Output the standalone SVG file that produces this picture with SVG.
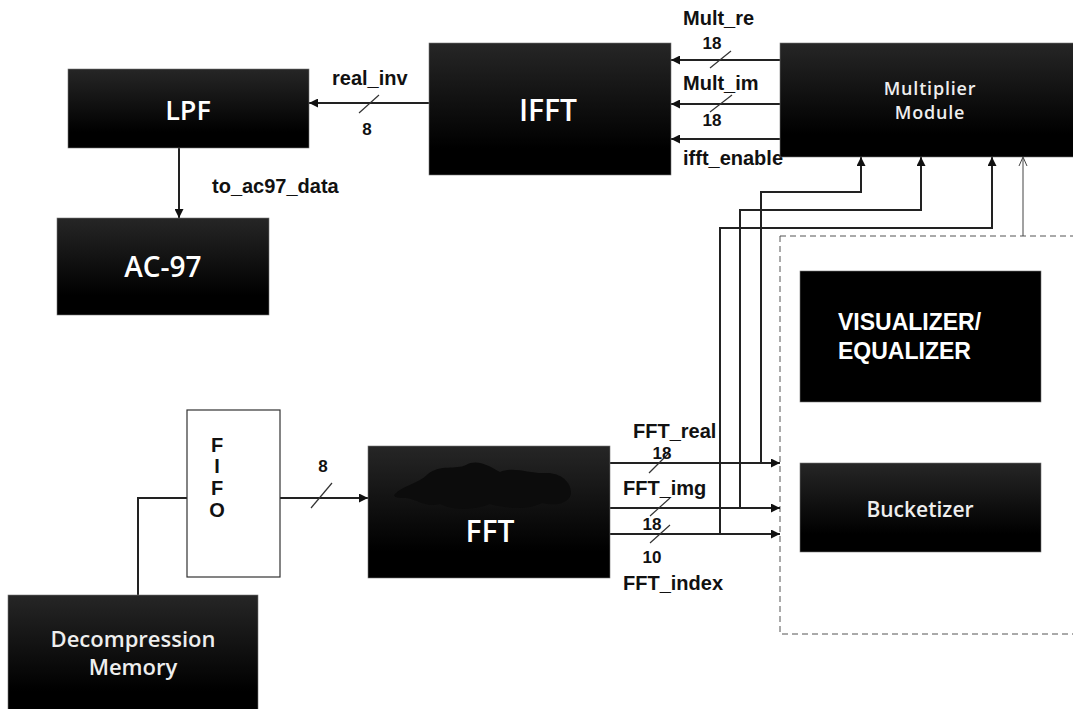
<svg xmlns="http://www.w3.org/2000/svg" width="1073" height="709" viewBox="0 0 1073 709">
<defs>
<linearGradient id="g" x1="0" y1="0" x2="0" y2="1">
<stop offset="0" stop-color="#262626"/>
<stop offset="0.8" stop-color="#000"/>
</linearGradient>
<marker id="ah" viewBox="0 0 10 10" refX="10" refY="5" markerWidth="9" markerHeight="9" markerUnits="userSpaceOnUse" orient="auto">
<path d="M0,0 L10,5 L0,10 Z" fill="#111"/>
</marker>
<marker id="oh" viewBox="0 0 10 10" refX="10" refY="5" markerWidth="10" markerHeight="10" markerUnits="userSpaceOnUse" orient="auto">
<path d="M1,1 L10,5 L1,9" fill="none" stroke="#444" stroke-width="1"/>
</marker>
<style>
.box{fill:url(#g);stroke:#777;stroke-width:0.6}
.blk{fill:#000;stroke:#777;stroke-width:0.6}
.bt{font-family:"Open Sans","DejaVu Sans",sans-serif;font-weight:600;fill:#fff;text-anchor:middle}
.st{font-family:"Open Sans","DejaVu Sans",sans-serif;font-weight:600;fill:#eee;text-anchor:middle}
.lb{font-family:"Liberation Sans",Arial,sans-serif;font-weight:700;fill:#111;font-size:20px}
.nm{font-family:"Liberation Sans",Arial,sans-serif;font-weight:700;fill:#111;font-size:17px;text-anchor:middle}
.w{fill:none;stroke:#222;stroke-width:2}
.wa{fill:none;stroke:#222;stroke-width:2;marker-end:url(#ah)}
.sl{stroke:#333;stroke-width:1.2}
</style>
</defs>
<rect width="1073" height="709" fill="#fff"/>

<g id="connectors">
<rect x="780" y="236" width="310" height="398" fill="none" stroke="#555" stroke-width="1" stroke-dasharray="6,4"/>
<line class="wa" x1="429" y1="103" x2="309" y2="103"/>
<line class="sl" x1="359" y1="113" x2="379" y2="95"/>
<line class="wa" x1="179" y1="148" x2="179" y2="218" stroke-width="1.5"/>
<line class="wa" x1="780" y1="60" x2="671" y2="60"/>
<line class="wa" x1="780" y1="104" x2="671" y2="104"/>
<line class="wa" x1="780" y1="139" x2="671" y2="139"/>
<line class="sl" x1="710" y1="68" x2="731" y2="51"/>
<line class="sl" x1="710" y1="112" x2="732" y2="95"/>
<line class="wa" x1="610" y1="463" x2="780" y2="463"/>
<line class="wa" x1="610" y1="508" x2="780" y2="508"/>
<line class="wa" x1="610" y1="534" x2="780" y2="534"/>
<line class="sl" x1="649" y1="473" x2="669" y2="453"/>
<line class="sl" x1="650" y1="516" x2="670" y2="498"/>
<line class="sl" x1="650" y1="543" x2="670" y2="525"/>
<polyline class="wa" points="761,463 761,192 861,192 861,157"/>
<polyline class="wa" points="740,508 740,210 921,210 921,157"/>
<polyline class="wa" points="720,534 720,228 992,228 992,157"/>
<line x1="1023" y1="236" x2="1023" y2="157" stroke="#444" stroke-width="1" marker-end="url(#oh)"/>
<polyline class="w" points="138,595 138,498 187,498" stroke-width="1.5"/>
<line class="wa" x1="280" y1="498" x2="368" y2="498" stroke-width="1.5"/>
<line class="sl" x1="311" y1="508" x2="332" y2="483"/>
</g>

<g id="labels">
<text class="lb" x="332" y="85">real_inv</text>
<text class="nm" x="367" y="135">8</text>
<text class="lb" x="212" y="193">to_ac97_data</text>
<text class="lb" x="683" y="25">Mult_re</text>
<text class="nm" x="712" y="49">18</text>
<text class="lb" x="683" y="90">Mult_im</text>
<text class="nm" x="712" y="126">18</text>
<text class="lb" x="683" y="165">ifft_enable</text>
<text class="lb" x="633" y="438">FFT_real</text>
<text class="nm" x="662" y="459">18</text>
<text class="lb" x="623" y="495">FFT_img</text>
<text class="nm" x="652" y="530">18</text>
<text class="nm" x="652" y="563">10</text>
<text class="lb" x="623" y="590">FFT_index</text>
<text class="nm" x="323" y="472">8</text>
</g>

<g id="lpf">
<rect class="box" x="68" y="69" width="241" height="79"/>
<text class="bt" x="188" y="120" font-size="27">LPF</text>
</g>
<g id="ac97">
<rect class="box" x="57" y="218" width="212" height="97"/>
<text class="bt" x="163" y="277" font-size="28">AC-97</text>
</g>
<g id="ifft">
<rect class="box" x="429" y="43" width="242" height="132"/>
<text class="bt" x="548" y="121" font-size="30">IFFT</text>
</g>
<g id="multiplier">
<rect class="box" x="780" y="43" width="300" height="114"/>
<text class="st" x="930" y="95" font-size="18" font-weight="400" letter-spacing="0.8">Multiplier</text>
<text class="st" x="930" y="119" font-size="18" font-weight="400" letter-spacing="0.8">Module</text>
</g>
<g id="visualizer">
<rect class="blk" x="800" y="271" width="241" height="131"/>
<text x="838" y="330" font-family="Liberation Sans,Arial,sans-serif" font-weight="700" font-size="23" fill="#fff">VISUALIZER/</text>
<text x="838" y="359" font-family="Liberation Sans,Arial,sans-serif" font-weight="700" font-size="23" fill="#fff">EQUALIZER</text>
</g>
<g id="bucketizer">
<rect class="box" x="800" y="463" width="241" height="89"/>
<text class="st" x="920" y="517" font-size="21">Bucketizer</text>
</g>
<g id="fifo">
<rect x="187" y="410" width="93" height="167" fill="#fff" stroke="#333" stroke-width="1.2"/>
<g font-family="Liberation Sans,Arial,sans-serif" font-weight="700" font-size="20" fill="#111" text-anchor="middle">
<text x="217" y="452">F</text>
<text x="217" y="473">I</text>
<text x="217" y="495">F</text>
<text x="217" y="517">O</text>
</g>
</g>
<g id="fft">
<rect class="box" x="368" y="446" width="242" height="132"/>
<path d="M395,494 C402,486 418,484 428,474 C440,464 456,470 466,465 C478,458 492,468 500,472 C514,466 530,474 545,473 C560,472 572,482 571,494 C568,504 556,506 542,503 C526,511 506,508 490,504 C472,511 452,510 440,504 C426,508 416,499 406,498 C398,498 392,497 395,494 Z" fill="#0c0c0c"/>
<text class="bt" x="490" y="542" font-size="30">FFT</text>
</g>
<g id="decompression">
<rect class="box" x="8" y="595" width="250" height="120"/>
<text class="st" x="133" y="647" font-size="22">Decompression</text>
<text class="st" x="133" y="675" font-size="22">Memory</text>
</g>
</svg>
